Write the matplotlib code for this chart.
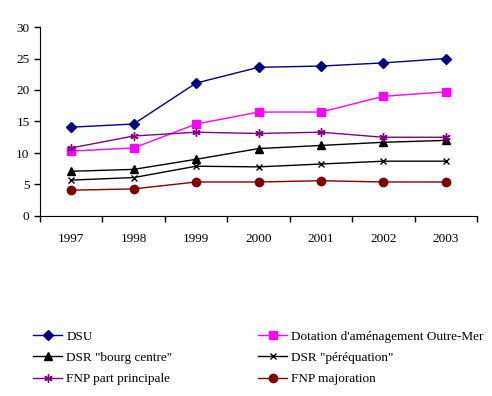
import numpy as np
import matplotlib
matplotlib.use("Agg")
import matplotlib.pyplot as plt

plt.rcParams['font.family'] = ['Liberation Serif', 'DejaVu Serif']
plt.rcParams['font.size'] = 9.5

years = ["1997", "1998", "1999", "2000", "2001", "2002", "2003"]
dsu = [14.1, 14.6, 21.1, 23.6, 23.8, 24.3, 25.0]
dotation_om = [10.3, 10.8, 14.6, 16.5, 16.5, 19.0, 19.7]
dsr_bourg = [7.1, 7.4, 9.0, 10.7, 11.2, 11.7, 12.0]
dsr_pereq = [5.7, 6.1, 7.9, 7.8, 8.25, 8.7, 8.7]
fnp_principale = [10.8, 12.7, 13.3, 13.1, 13.3, 12.5, 12.5]
fnp_majoration = [4.1, 4.3, 5.4, 5.4, 5.6, 5.4, 5.4]

series = [
    ("DSU", dsu, "#000080", "D", 5),
    ("Dotation d'aménagement Outre-Mer", dotation_om, "#FF00FF", "s", 6),
    ('DSR "bourg centre"', dsr_bourg, "black", "^", 6),
    ('DSR "péréquation"', dsr_pereq, "black", "x", 5),
    ("FNP part principale", fnp_principale, "#800080", (6, 2, 0), 6),
    ("FNP majoration", fnp_majoration, "#800000", "o", 6),
]

fig = plt.figure(figsize=(4.92, 3.96), dpi=100)
ax = fig.add_axes([40 / 492, 1 - 216 / 396, 437 / 492, 189 / 396])

x = np.arange(len(years))
handles = []
for name, vals, col, mk, ms in series:
    h, = ax.plot(x, vals, color=col, marker=mk, markersize=ms, linewidth=1,
                 markerfacecolor=col, markeredgecolor=col, label=name)
    handles.append(h)

ax.set_xlim(-0.5, len(years) - 0.5)
ax.set_ylim(0, 30)
ax.set_yticks(range(0, 31, 5))
ax.set_xticks(np.arange(-0.5, len(years), 1.0))
ax.set_xticklabels([])
ax.set_xticks(x, minor=True)
ax.set_xticklabels(years, minor=True)
ax.tick_params(axis='x', which='minor', length=0, pad=12)
ax.tick_params(axis='both', which='major', direction='out', length=4, width=1)
for s in ["top", "right"]:
    ax.spines[s].set_visible(False)

# legend is filled column by column, reorder so rows read like the original
order = [0, 2, 4, 1, 3, 5]
fig.legend(handles=[handles[i] for i in order], loc='upper left',
           bbox_to_anchor=(28 / 492, 1 - 325 / 396),
           ncol=2, frameon=False, handlelength=2.2, handletextpad=0.3,
           columnspacing=6.5, labelspacing=0.7, borderaxespad=0, fontsize=9.5)

fig.savefig("out.png", dpi=100)
